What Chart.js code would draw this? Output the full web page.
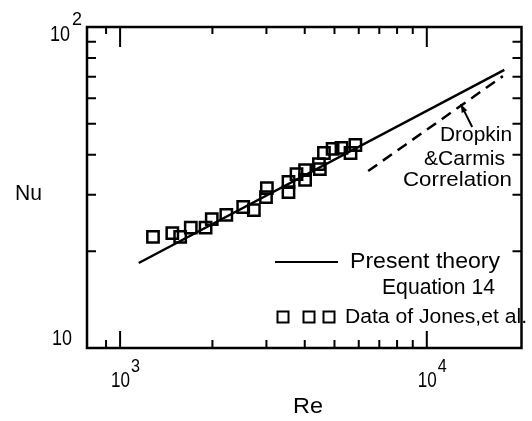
<!DOCTYPE html>
<html>
<head>
<meta charset="utf-8">
<script src="https://cdn.jsdelivr.net/npm/chart.js@4"></script>
<style>
  body { margin: 0; background: #fff; }
  canvas { display: block; }
</style>
</head>
<body>
<canvas id="c" width="532" height="421"></canvas>
<script>
// data of Jones, et al.
const jonesRe = [1280, 1480, 1570, 1700, 1900, 1990, 2220, 2520, 2730, 3010, 2990, 3540, 3540, 3760, 4010, 4010, 4450, 4480, 4620, 4930, 5270, 5640, 5850]
const jonesNu = [22.2, 22.8, 22.2, 23.7, 23.7, 25.2, 26.0, 27.5, 26.9, 31.5, 29.5, 32.9, 30.6, 34.8, 35.8, 33.4, 37.4, 36.1, 40.5, 41.7, 42.0, 40.5, 42.9]
// present theory, equation 14
const theoryRe = [1150, 17900]
const theoryNu = [18.4, 73.5]
// Dropkin & Carmis correlation
const dropkinRe = [6440, 17700]
const dropkinNu = [35.6, 70.3]
// axis ticks
const xMajor = [1000, 10000]
const xMajorExp = ['3', '4']
const xMinor = [900, 2000, 3000, 4000, 5000, 6000, 7000, 8000, 9000]
const yMinor = [20, 30, 40, 50, 60, 70, 80, 90]

const pts = (xs, ys) => xs.map((x, i) => ({x: x, y: ys[i]}))

const FONT = '"Liberation Sans", Arial, sans-serif'

// draw text squeezed/stretched to a given width
function fitText(ctx, txt, x, base, w, size) {
  ctx.font = size + 'px ' + FONT
  const m = ctx.measureText(txt).width
  ctx.save()
  ctx.translate(x, base)
  ctx.scale(w / m, 1)
  ctx.textAlign = 'left'
  ctx.textBaseline = 'alphabetic'
  ctx.fillText(txt, 0, 0)
  ctx.restore()
}

const decor = {
  id: 'decor',
  afterDraw(chart) {
    const ctx = chart.ctx
    const xs = chart.scales.x, ys = chart.scales.y
    const a = chart.chartArea
    ctx.save()
    ctx.strokeStyle = '#000'
    ctx.fillStyle = '#000'
    ctx.lineWidth = 2.5
    ctx.strokeRect(a.left, a.top, a.right - a.left, a.bottom - a.top)

    // inner ticks on all four sides
    ctx.lineWidth = 2
    ctx.beginPath()
    xMinor.forEach(v => {
      const px = xs.getPixelForValue(v)
      ctx.moveTo(px, a.bottom); ctx.lineTo(px, a.bottom - 8)
      ctx.moveTo(px, a.top); ctx.lineTo(px, a.top + 7)
    })
    xMajor.forEach(v => {
      const px = xs.getPixelForValue(v)
      ctx.moveTo(px, a.bottom); ctx.lineTo(px, a.bottom - 17)
      ctx.moveTo(px, a.top); ctx.lineTo(px, a.top + 20)
    })
    yMinor.forEach(v => {
      const py = ys.getPixelForValue(v)
      ctx.moveTo(a.left, py); ctx.lineTo(a.left + 9, py)
      ctx.moveTo(a.right, py); ctx.lineTo(a.right - 9, py)
    })
    ctx.stroke()

    // tick labels
    xMajor.forEach((v, i) => {
      const px = xs.getPixelForValue(v)
      fitText(ctx, '10', px - 9, 387, 19, 22)
      fitText(ctx, xMajorExp[i], px + 11, 372, 9, 18)
    })
    fitText(ctx, '10', 50, 41, 20, 22)
    fitText(ctx, '2', 72, 25, 10, 18)
    fitText(ctx, '10', 52, 345, 20, 22)

    // axis titles
    fitText(ctx, 'Nu', 15, 200, 27, 22)
    fitText(ctx, 'Re', 293, 413, 30, 22)

    // Dropkin & Carmis note with arrow
    fitText(ctx, 'Dropkin', 440, 141, 72, 21)
    fitText(ctx, '&Carmis', 424, 165, 81, 21)
    fitText(ctx, 'Correlation', 403, 186, 109, 21)
    const tx = xs.getPixelForValue(12900), ty = ys.getPixelForValue(57.5)
    const fx = xs.getPixelForValue(14060), fy = ys.getPixelForValue(48.8)
    ctx.lineWidth = 2
    ctx.beginPath(); ctx.moveTo(fx, fy); ctx.lineTo(tx, ty); ctx.stroke()
    const ang = Math.atan2(ty - fy, tx - fx)
    ctx.beginPath()
    ctx.moveTo(tx, ty)
    ctx.lineTo(tx - 9 * Math.cos(ang - 0.35), ty - 9 * Math.sin(ang - 0.35))
    ctx.lineTo(tx - 9 * Math.cos(ang + 0.35), ty - 9 * Math.sin(ang + 0.35))
    ctx.closePath(); ctx.fill()

    // legend
    ctx.beginPath(); ctx.moveTo(275, 262); ctx.lineTo(338, 262); ctx.stroke()
    fitText(ctx, 'Present theory', 350, 268, 150, 22)
    fitText(ctx, 'Equation 14', 382, 294, 113, 22)
    ;[283, 309, 329].forEach(cx => ctx.strokeRect(cx - 5.5, 311.5, 11, 11))
    fitText(ctx, 'Data of Jones,et al.', 345, 323, 182, 20)
    ctx.restore()
  }
}

new Chart(document.getElementById('c'), {
  type: 'scatter',
  data: {
    datasets: [{
      label: 'Present theory',
      data: pts(theoryRe, theoryNu),
      showLine: true,
      borderColor: '#000',
      borderWidth: 2.5,
      pointRadius: 0
    }, {
      label: 'Dropkin & Carmis',
      data: pts(dropkinRe, dropkinNu),
      showLine: true,
      borderColor: '#000',
      borderWidth: 2.5,
      borderDash: [11, 7],
      pointRadius: 0
    }, {
      label: 'Data of Jones, et al.',
      data: pts(jonesRe, jonesNu),
      pointStyle: 'rect',
      pointRadius: 8,
      borderColor: '#000',
      borderWidth: 2.5,
      backgroundColor: 'rgba(0,0,0,0)'
    }]
  },
  options: {
    responsive: false,
    animation: false,
    layout: { padding: { left: 87, right: 3, top: 27, bottom: 73 } },
    plugins: { legend: { display: false }, tooltip: { enabled: false } },
    scales: {
      x: { type: 'logarithmic', min: 780, max: 20360, display: false },
      y: { type: 'logarithmic', min: 10, max: 100, display: false }
    }
  },
  plugins: [decor]
});
</script>
</body>
</html>
